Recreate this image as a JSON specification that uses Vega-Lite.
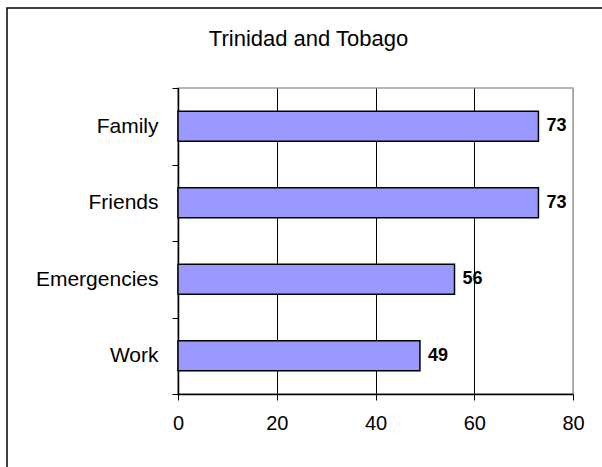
{
  "$schema": "https://vega.github.io/schema/vega-lite/v6.json",
  "width": 395,
  "height": 306,
  "autosize": "none",
  "padding": {"left": 178, "top": 88, "right": 29, "bottom": 73},
  "background": "white",
  "title": {
    "text": "Trinidad and Tobago",
    "font": "Liberation Sans",
    "fontSize": 22,
    "fontWeight": "normal",
    "color": "#000000",
    "frame": "group",
    "anchor": "middle",
    "baseline": "alphabetic",
    "offset": -61,
    "dx": -67
  },
  "config": {
    "view": {"stroke": "#a0a0a0", "strokeWidth": 1.5}
  },
  "data": {
    "values": [
      {"category": "Family", "value": 73},
      {"category": "Friends", "value": 73},
      {"category": "Emergencies", "value": 56},
      {"category": "Work", "value": 49}
    ]
  },
  "encoding": {
    "y": {
      "field": "category",
      "type": "nominal",
      "sort": null,
      "scale": {"paddingInner": 0, "paddingOuter": 0},
      "axis": {
        "title": null,
        "domainColor": "#000000",
        "domainWidth": 1.5,
        "tickColor": "#000000",
        "tickSize": 6,
        "tickBand": "extent",
        "labelFont": "Liberation Sans",
        "labelFontSize": 21,
        "labelColor": "#000000",
        "labelPadding": 14,
        "grid": false
      }
    },
    "x": {
      "field": "value",
      "type": "quantitative",
      "scale": {"domain": [0, 80], "nice": false},
      "axis": {
        "title": null,
        "values": [0, 20, 40, 60, 80],
        "domainColor": "#000000",
        "domainWidth": 1.5,
        "tickColor": "#000000",
        "tickSize": 6,
        "labelFont": "Liberation Sans",
        "labelFontSize": 20,
        "labelColor": "#000000",
        "labelPadding": 13,
        "labelFlush": false,
        "grid": true,
        "gridColor": {"condition": {"test": "datum.value == 80", "value": "#a0a0a0"}, "value": "#000000"},
        "gridWidth": 1
      }
    }
  },
  "layer": [
    {
      "mark": {"type": "bar", "height": {"band": 0.39}, "fill": "#9999ff", "stroke": "#000000", "strokeWidth": 1.5}
    },
    {
      "mark": {
        "type": "text",
        "align": "left",
        "baseline": "middle",
        "dx": 8,
        "font": "Liberation Sans",
        "fontSize": 18,
        "fontWeight": "bold",
        "color": "#000000"
      },
      "encoding": {"text": {"field": "value", "type": "quantitative"}}
    },
    {
      "data": {"values": [{"frame": "outer"}]},
      "mark": {
        "type": "rect",
        "fill": "transparent",
        "stroke": "#000000",
        "strokeWidth": 1.5
      },
      "encoding": {
        "x": {"value": -171},
        "x2": {"value": 700},
        "y": {"value": -80},
        "y2": {"value": 600}
      }
    }
  ]
}
